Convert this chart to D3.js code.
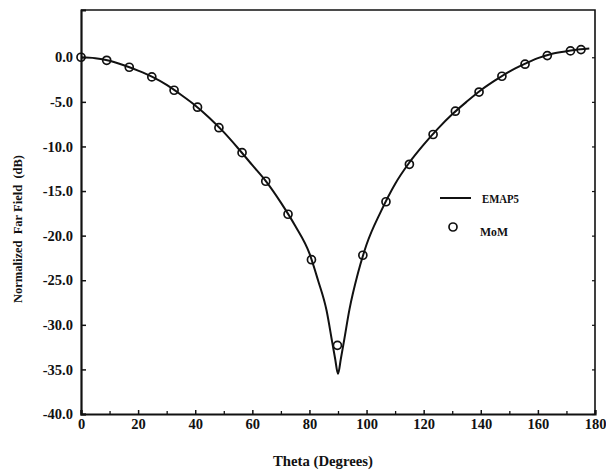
<!DOCTYPE html>
<html>
<head>
<meta charset="utf-8">
<script src="https://cdn.jsdelivr.net/npm/d3@7"></script>
<style>
  html, body { margin: 0; padding: 0; background: #fff; }
  svg { display: block; }
  text { font-family: "Liberation Serif", "DejaVu Serif", serif; font-weight: bold; fill: #111; }
</style>
</head>
<body>
<svg id="chart" width="606" height="470"></svg>
<script>
// EMAP5 curve (theta in degrees, normalized far field in dB)
const emapTheta = [0, 5, 10, 15, 20, 25, 30, 35, 40, 45, 50, 55, 60, 65, 70, 75, 80, 83, 86, 88, 89, 90, 91, 92, 94, 97, 100, 105, 110, 115, 120, 125, 130, 135, 140, 145, 150, 155, 160, 165, 170, 175, 178];
const emapDb    = [0, -0.1, -0.4, -0.9, -1.5, -2.2, -3.1, -4.2, -5.4, -6.8, -8.4, -10.2, -12.1, -14.0, -16.3, -18.9, -22.0, -25.0, -28.4, -32.0, -33.8, -35.5, -33.8, -32.0, -28.3, -24.2, -21.0, -17.3, -14.2, -11.8, -9.8, -8.0, -6.4, -5.0, -3.7, -2.6, -1.6, -0.8, -0.1, 0.4, 0.68, 0.9, 0.98];

// MoM points
const momTheta = [0, 9, 16.9, 24.8, 32.6, 40.8, 48.3, 56.4, 64.7, 72.5, 80.7, 89.8, 98.7, 106.8, 115, 123.3, 131.1, 139.4, 147.4, 155.5, 163.3, 171.4, 175.1];
const momDb    = [0, -0.34, -1.12, -2.2, -3.7, -5.6, -7.9, -10.7, -13.9, -17.6, -22.7, -32.3, -22.2, -16.2, -12.0, -8.66, -6.05, -3.9, -2.13, -0.78, 0.19, 0.71, 0.86];

const xTicks = [0, 20, 40, 60, 80, 100, 120, 140, 160, 180];
const xMinorTicks = [10, 30, 50, 70, 90, 110, 130, 150, 170];
const yTicks = [0, -5, -10, -15, -20, -25, -30, -35, -40];

const xTitle = "Theta (Degrees)";
const yTitle = "Normalized  Far Field  (dB)";
const legendLabels = ["EMAP5", "MoM"];

const svg = d3.select("#chart");
const L = 81, R = 595, T = 10, B = 414;

const x = d3.scaleLinear().domain([0, 180]).range([L, R]);
const y = d3.scaleLinear().domain([-40, 5.3]).range([B, T]);

// frame (top & right)
svg.append("path")
  .attr("d", `M${L},${T}H${R}V${B}`)
  .attr("fill", "none").attr("stroke", "#111").attr("stroke-width", 1.6);

// bottom axis
const xAxis = d3.axisBottom(x).tickValues(xTicks).tickSize(-4).tickFormat(d3.format("d")).tickPadding(4);
const gx = svg.append("g").attr("transform", `translate(0,${B})`).call(xAxis);
gx.select(".domain").attr("stroke", "#111").attr("stroke-width", 2.2);
gx.selectAll(".tick line").attr("stroke", "#111").attr("stroke-width", 1.5);
gx.selectAll(".tick text").attr("font-size", 14.5).attr("dy", "0.75em");

const gxm = svg.append("g").attr("transform", `translate(0,${B})`)
  .call(d3.axisBottom(x).tickValues(xMinorTicks).tickSize(-3).tickFormat(""));
gxm.select(".domain").remove();
gxm.selectAll(".tick line").attr("stroke", "#111").attr("stroke-width", 1.3);

// left axis
const yAxis = d3.axisLeft(y).tickValues(yTicks).tickSize(-5).tickFormat(d3.format(".1f")).tickPadding(8);
const gy = svg.append("g").attr("transform", `translate(${L},0)`).call(yAxis);
gy.select(".domain").attr("stroke", "#111").attr("stroke-width", 2.2);
gy.selectAll(".tick line").attr("stroke", "#111").attr("stroke-width", 1.5);
gy.selectAll(".tick text").attr("font-size", 14.5).text(d => d3.format(".1f")(d).replace("−", "-"));

// right axis small ticks
const gyr = svg.append("g").attr("transform", `translate(${R},0)`)
  .call(d3.axisRight(y).tickValues(yTicks).tickSize(-3).tickFormat(""));
gyr.select(".domain").remove();
gyr.selectAll(".tick line").attr("stroke", "#111").attr("stroke-width", 1.2);

// titles
svg.append("text").attr("x", 323).attr("y", 466).attr("text-anchor", "middle")
  .attr("font-size", 14).attr("textLength", 100).attr("lengthAdjust", "spacingAndGlyphs").text(xTitle);
svg.append("text").attr("transform", `translate(22,${229}) rotate(-90)`).attr("text-anchor", "middle")
  .attr("font-size", 13).attr("xml:space", "preserve").style("white-space", "pre")
  .attr("textLength", 148).attr("lengthAdjust", "spacingAndGlyphs").text(yTitle);

// EMAP5 line
const line = d3.line().x(d => x(d[0])).y(d => y(d[1])).curve(d3.curveMonotoneX);
svg.append("path")
  .datum(emapTheta.map((t, i) => [t, emapDb[i]]))
  .attr("d", line)
  .attr("fill", "none").attr("stroke", "#111").attr("stroke-width", 2);

// MoM circles
svg.append("g").selectAll("circle")
  .data(momTheta.map((t, i) => [t, momDb[i]]))
  .join("circle")
  .attr("cx", d => x(d[0])).attr("cy", d => y(d[1])).attr("r", 4)
  .attr("fill", "none").attr("stroke", "#111").attr("stroke-width", 1.7);

// legend
const lg = svg.append("g");
lg.append("line").attr("x1", 440).attr("x2", 471).attr("y1", 198).attr("y2", 198)
  .attr("stroke", "#111").attr("stroke-width", 2);
lg.append("text").attr("x", 482).attr("y", 198).attr("dy", "0.35em").attr("font-size", 13)
  .attr("textLength", 37).attr("lengthAdjust", "spacingAndGlyphs").text(legendLabels[0]);
lg.append("circle").attr("cx", 453).attr("cy", 227).attr("r", 4)
  .attr("fill", "none").attr("stroke", "#111").attr("stroke-width", 1.7);
lg.append("text").attr("x", 480).attr("y", 231).attr("dy", "0.35em").attr("font-size", 13)
  .attr("textLength", 28).attr("lengthAdjust", "spacingAndGlyphs").text(legendLabels[1]);
</script>
</body>
</html>
